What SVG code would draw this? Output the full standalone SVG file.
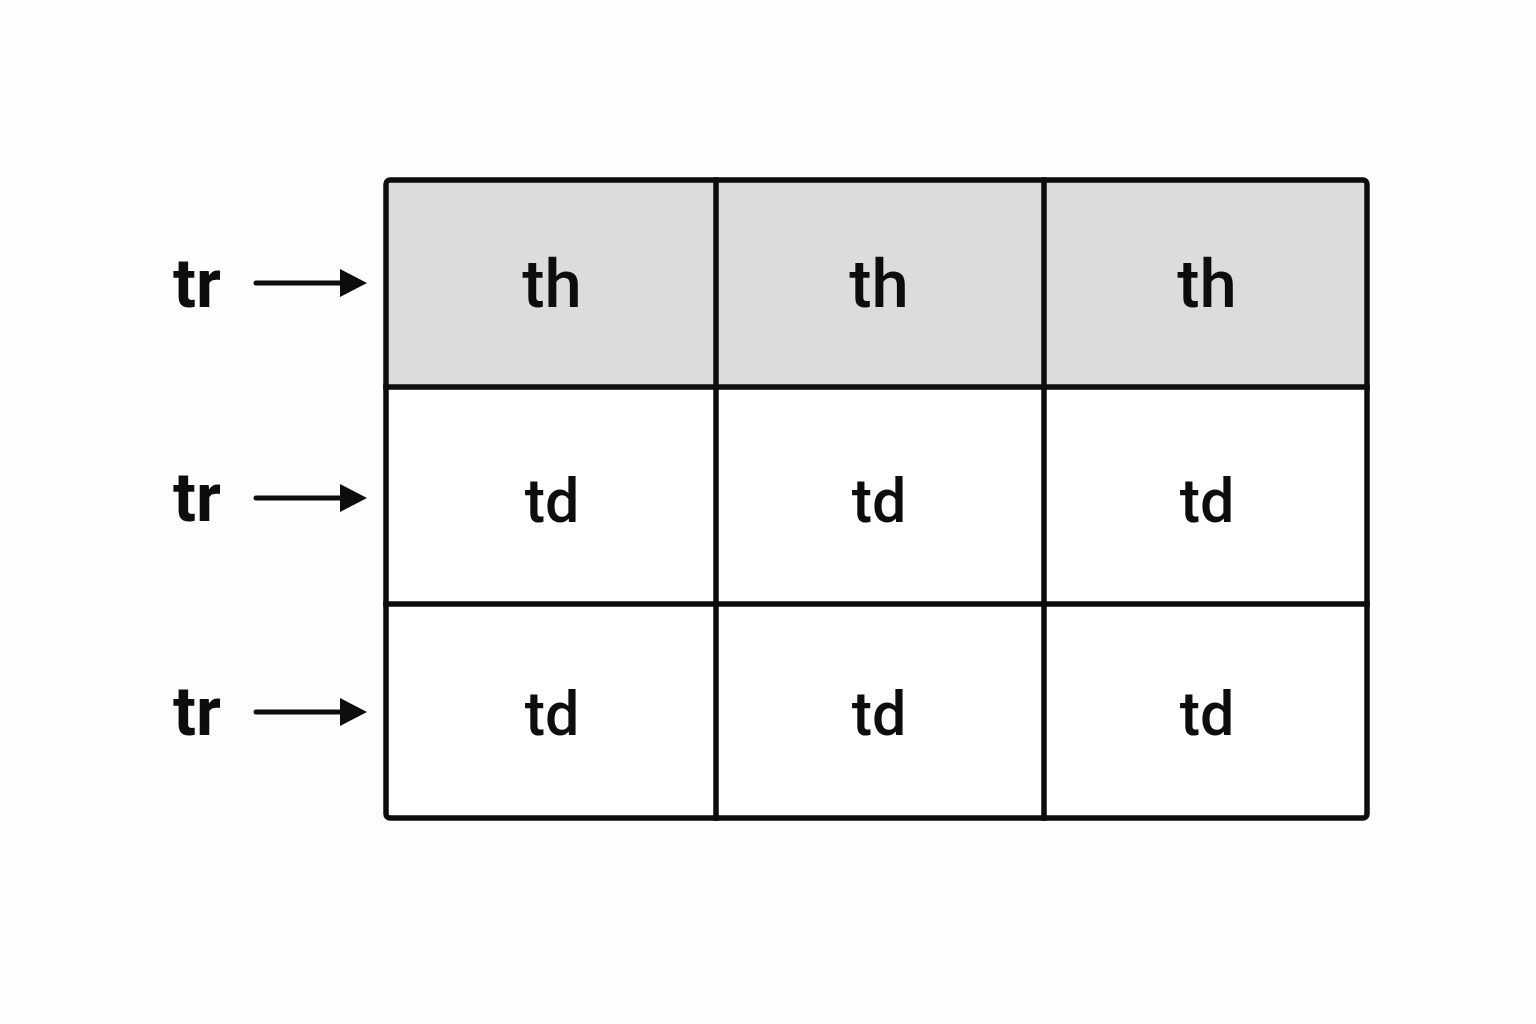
<svg xmlns="http://www.w3.org/2000/svg" width="1536" height="1024" viewBox="0 0 1536 1024">
  <defs>
    <style>
      .grid { stroke: #0d0d0d; stroke-width: 5.5; fill: none; stroke-linecap: square; }
      .lbl { font-family: Roboto, "Liberation Sans", Arial, sans-serif; fill: #0d0d0d; text-anchor: middle; }
      .tr { font-size: 68px; font-weight: bold; }
      .th { font-size: 67px; font-weight: 500; }
      .td { font-size: 61px; font-weight: 500; }
      .arrow { stroke: #0d0d0d; stroke-width: 5; stroke-linecap: round; fill: none; }
    </style>
    <marker id="ah" markerUnits="userSpaceOnUse" markerWidth="30" markerHeight="32" refX="5" refY="15" orient="auto">
      <path d="M0,1 L27,15 L0,29 Z" fill="#0d0d0d"/>
    </marker>
  </defs>
  <rect width="1536" height="1024" fill="#fdfdfd"/>

  <g id="table">
    <rect id="header-bg" x="386" y="180" width="981" height="207" fill="#dcdcdc"/>
    <rect x="386" y="387" width="981" height="431" fill="#ffffff"/>
    <line class="grid" x1="386" y1="387" x2="1367" y2="387"/>
    <line class="grid" x1="386" y1="604" x2="1367" y2="604"/>
    <line class="grid" x1="716" y1="180" x2="716" y2="818"/>
    <line class="grid" x1="1044" y1="180" x2="1044" y2="818"/>
    <rect class="grid" x="386" y="180" width="981" height="638" rx="4"/>
  </g>

  <g id="th1"><text class="lbl th" x="552" y="307">th</text></g>
  <g id="th2"><text class="lbl th" x="879" y="307">th</text></g>
  <g id="th3"><text class="lbl th" x="1207" y="307">th</text></g>
  <g id="td1"><text class="lbl td" x="552" y="522">td</text></g>
  <g id="td2"><text class="lbl td" x="879" y="522">td</text></g>
  <g id="td3"><text class="lbl td" x="1207" y="522">td</text></g>
  <g id="td4"><text class="lbl td" x="552" y="735">td</text></g>
  <g id="td5"><text class="lbl td" x="879" y="735">td</text></g>
  <g id="td6"><text class="lbl td" x="1207" y="735">td</text></g>

  <g id="tr1"><text class="lbl tr" x="197" y="307">tr</text></g>
  <g id="tr2"><text class="lbl tr" x="197" y="521">tr</text></g>
  <g id="tr3"><text class="lbl tr" x="197" y="735">tr</text></g>

  <g id="connectors">
    <line class="arrow" x1="256" y1="283" x2="345" y2="283" marker-end="url(#ah)"/>
    <line class="arrow" x1="256" y1="498" x2="345" y2="498" marker-end="url(#ah)"/>
    <line class="arrow" x1="256" y1="712" x2="345" y2="712" marker-end="url(#ah)"/>
  </g>
</svg>
